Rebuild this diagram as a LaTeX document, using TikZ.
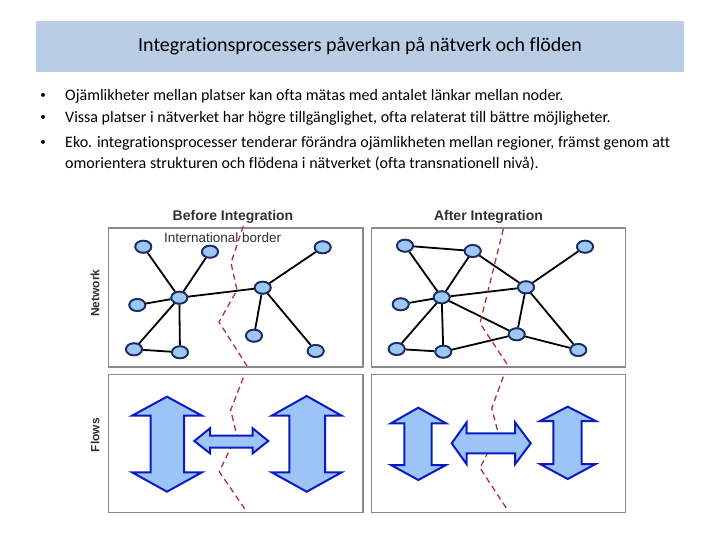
\documentclass[tikz,border=0pt]{standalone}
\usepackage{fontspec}
\setmainfont{Carlito}[Ligatures={NoCommon}]
\newfontfamily\arialf{Liberation Sans}
\usetikzlibrary{shapes.geometric}
\definecolor{titlebar}{HTML}{B9CDE5}
\definecolor{nodefill}{HTML}{9DC8F2}
\definecolor{nodeline}{HTML}{1B2C66}
\definecolor{arrfill}{HTML}{9CC4F6}
\definecolor{arrline}{HTML}{0A1CC0}
\definecolor{boxline}{HTML}{8A8A8A}
\definecolor{border}{HTML}{B0303C}
\definecolor{lbl}{HTML}{303030}
\tikzset{
  netnode/.style={ellipse, draw=nodeline, fill=nodefill, line width=1.8pt, minimum width=16pt, minimum height=12pt, inner sep=0pt},
  edge/.style={line width=1.8pt, black},
  panel/.style={draw=boxline, line width=1.8pt},
  borderline/.style={draw=border, line width=1.3pt, dash pattern=on 6pt off 4pt},
  flow/.style={draw=arrline, fill=arrfill, line width=2pt, line join=miter},
  bullettext/.style={anchor=west, inner sep=0pt, font=\fontsize{16}{18}\selectfont},
  bulletdot/.style={inner sep=0pt, font=\fontsize{11}{13}\selectfont},
  heading/.style={font=\arialf\bfseries\fontsize{14}{16}\selectfont, text=lbl, inner sep=0pt},
  sidelabel/.style={font=\arialf\bfseries\fontsize{12}{14}\selectfont, text=lbl, inner sep=0pt, rotate=90}
}
\begin{document}
\begin{tikzpicture}[x=1pt,y=-1pt]
\useasboundingbox (0,0) rectangle (720,540);
% title
\fill[titlebar] (36,21) rectangle (684,72);
\node[font=\fontsize{20}{24}\selectfont, inner sep=0pt] (title) at (360,46.5) {Integrationsprocessers påverkan på nätverk och flöden};
% bullets
\node[bulletdot] (b1) at (43,96) {•};
\node[bulletdot] (b2) at (43,118) {•};
\node[bulletdot] (b3) at (43,143) {•};
\node[bullettext] (t1) at (65,96) {Ojämlikheter mellan platser kan ofta mätas med antalet länkar mellan noder.};
\node[bullettext] (t2) at (65,118) {Vissa platser i nätverket har högre tillgänglighet, ofta relaterat till bättre möjligheter.};
\node[bullettext] (t3) at (65,143) {Eko. integrationsprocesser tenderar förändra ojämlikheten mellan regioner, främst genom att};
\node[bullettext] (t4) at (65,164) {omorientera strukturen och flödena i nätverket (ofta transnationell nivå).};
% panels
\draw[panel] (108.5,228) rectangle (363,367);
\draw[panel] (371.5,228) rectangle (625.5,367);
\draw[panel] (108.5,374.5) rectangle (363,512.5);
\draw[panel] (371.5,374.5) rectangle (625.5,512.5);
% labels
\node[heading] (hb) at (233,217) {Before Integration};
\node[heading] (ha) at (488.5,217) {After Integration};
\node[sidelabel] (ln) at (95,293) {Network};
\node[sidelabel] (lf) at (95,435) {Flows};
% before network nodes
\node[netnode] (p1) at (143.3,246.7) {};
\node[netnode] (p2) at (210,251.7) {};
\node[netnode] (p3) at (322.7,247.3) {};
\node[netnode] (p4) at (262.7,287.7) {};
\node[netnode] (p5) at (179.3,297.7) {};
\node[netnode] (p6) at (137.3,305) {};
\node[netnode] (p7) at (134,349.3) {};
\node[netnode] (p8) at (180,352.3) {};
\node[netnode] (p9) at (254,335.7) {};
\node[netnode] (p10) at (315.7,351) {};
% after network nodes
\node[netnode] (q1) at (405,245.7) {};
\node[netnode] (q2) at (472.7,251) {};
\node[netnode] (q3) at (585,246.7) {};
\node[netnode] (q4) at (526,287.3) {};
\node[netnode] (q5) at (441.7,297.3) {};
\node[netnode] (q6) at (400.7,304.3) {};
\node[netnode] (q7) at (396.7,349) {};
\node[netnode] (q8) at (443.3,351.7) {};
\node[netnode] (q9) at (516.7,334.3) {};
\node[netnode] (q10) at (578.3,350) {};
% edges before
\foreach \a/\b in {p5/p1,p5/p2,p5/p6,p5/p7,p5/p8,p5/p4,p7/p8,p4/p3,p4/p9,p4/p10}
  \draw[edge] (\a) -- (\b);
% edges after
\foreach \a/\b in {q1/q2,q1/q5,q2/q5,q2/q4,q3/q4,q5/q4,q5/q6,q5/q7,q5/q8,q5/q9,q7/q8,q8/q9,q4/q9,q4/q10,q9/q10}
  \draw[edge] (\a) -- (\b);
% borders
\coordinate (bn1) at (243.3,226);
\coordinate (bn2) at (231,263);
\coordinate (bn3) at (237,290);
\coordinate (bn4) at (219,322);
\coordinate (bn5) at (247,366);
\draw[borderline] (bn1) -- (bn2) -- (bn3) -- (bn4) -- (bn5);
\coordinate (an1) at (503.3,229);
\coordinate (an2) at (480,323.3);
\coordinate (an3) at (508.3,366);
\draw[borderline] (an1) -- (an2) -- (an3);
\coordinate (bf1) at (243.3,377.7);
\coordinate (bf2) at (230.7,410);
\coordinate (bf3) at (236.7,435);
\coordinate (bf4) at (219.3,471.7);
\coordinate (bf5) at (246.7,511.7);
\draw[borderline] (bf1) -- (bf2) -- (bf3) -- (bf4) -- (bf5);
\coordinate (af1) at (503.3,376.7);
\coordinate (af2) at (491.7,408.3);
\coordinate (af3) at (498,432);
\coordinate (af4) at (480,468);
\coordinate (af5) at (508.3,511);
\draw[borderline] (af1) -- (af2) -- (af3) -- (af4) -- (af5);
% redraw nodes on top of edges/borders
\foreach \n in {p1,p2,p3,p4,p5,p6,p7,p8,p9,p10,q1,q2,q3,q4,q5,q6,q7,q8,q9,q10}
  \node[netnode] at (\n) {};
\node[font=\arialf\fontsize{13.5}{15}\selectfont, text=lbl, inner sep=0pt] (ib) at (222.7,237.7) {International border};
% flows before
\draw[flow] (167,396.7) -- (202,415.7) -- (184,415.7) -- (184,472.3) -- (202,472.3) -- (167,491.7) -- (132,472.3) -- (150.7,472.3) -- (150.7,415.7) -- (132,415.7) -- cycle;
\draw[flow] (306.7,396) -- (341.7,415.7) -- (325,415.7) -- (325,472.3) -- (341.7,472.3) -- (306.7,491.7) -- (271.7,472.3) -- (289.3,472.3) -- (289.3,415.7) -- (271.7,415.7) -- cycle;
\draw[flow] (194.3,441) -- (210,428.3) -- (210,435.7) -- (252.7,435.7) -- (252.7,428.3) -- (268.3,441) -- (252.7,453.3) -- (252.7,447.7) -- (210,447.7) -- (210,453.3) -- cycle;
% flows after
\draw[flow] (418.3,407.7) -- (446,423.3) -- (431.7,423.3) -- (431.7,465) -- (446,465) -- (418.3,480) -- (391,465) -- (404.3,465) -- (404.3,423.3) -- (391,423.3) -- cycle;
\draw[flow] (567.7,406.7) -- (595.7,421) -- (581.7,421) -- (581.7,464) -- (595.7,464) -- (567.7,479) -- (540,464) -- (553.3,464) -- (553.3,421) -- (540,421) -- cycle;
\draw[flow] (451.7,443.3) -- (466.7,422.3) -- (466.7,433.3) -- (515,433.3) -- (515,422.3) -- (530.7,443.3) -- (515,464.3) -- (515,453.3) -- (466.7,453.3) -- (466.7,464.3) -- cycle;
\end{tikzpicture}
\end{document}
